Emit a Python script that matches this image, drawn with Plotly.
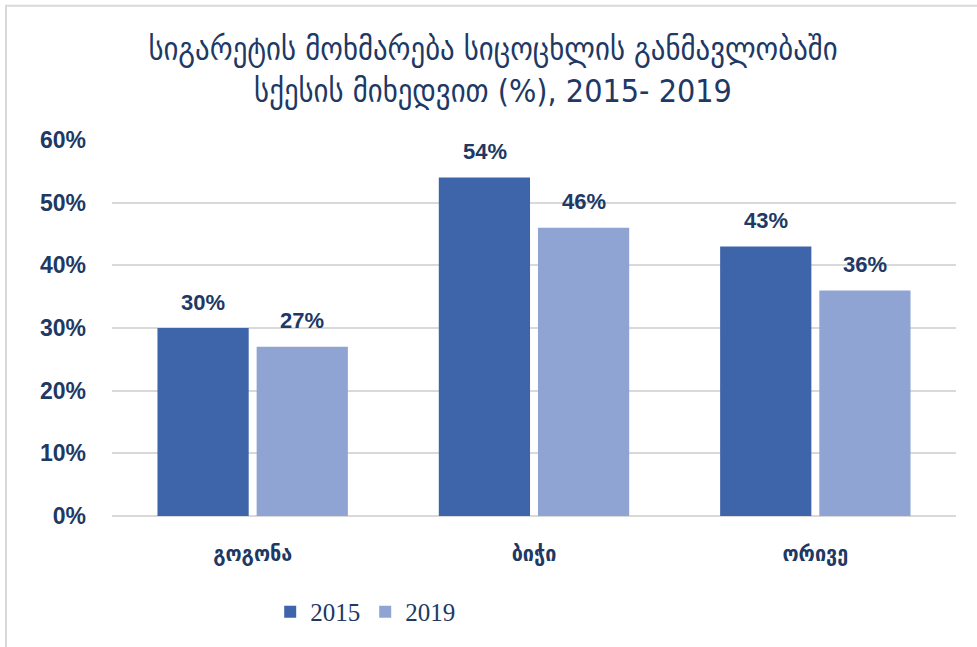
import plotly.graph_objects as go

# Smoking prevalence by sex, 2015 vs 2019 (%)
categories = ["გოგონა", "ბიჭი", "ორივე"]
years = ["2015", "2019"]
values_2015 = [30, 54, 43]
values_2019 = [27, 46, 36]
y_ticks = [0, 10, 20, 30, 40, 50, 60]

navy = "#203864"
colors = {"2015": "#3E64AA", "2019": "#90A4D3"}
series = {"2015": values_2015, "2019": values_2019}

fig = go.Figure()
for yr in years:
    fig.add_trace(go.Bar(
        name=yr, x=categories, y=series[yr],
        marker=dict(color=colors[yr], line=dict(width=0)),
    ))

# value labels above each bar
half_slot = 49.5
for i, yr in enumerate(years):
    shift = -half_slot if i == 0 else half_slot
    for cat, v in zip(categories, series[yr]):
        fig.add_annotation(
            x=cat, y=v, text=f"{v}%", showarrow=False,
            xshift=shift, yshift=26, yanchor="middle",
            font=dict(family="Liberation Sans", size=22, color=navy, weight="bold"),
        )

fig.update_layout(
    width=977, height=647,
    margin=dict(l=112, r=21, t=139.5, b=131, pad=0),
    paper_bgcolor="white", plot_bgcolor="white",
    barmode="group", bargap=0.295, bargroupgap=0.08,
    title=dict(
        text="სიგარეტის მოხმარება სიცოცხლის განმავლობაში<br>სქესის მიხედვით (%), 2015- 2019",
        x=493 / 977, xanchor="center", y=1 - 60 / 647, yanchor="middle",
        font=dict(family="DejaVu Sans Condensed", size=32, color=navy),
    ),
    xaxis=dict(
        showgrid=False, showline=False, ticks="",
        tickfont=dict(family="DejaVu Sans Condensed", size=22, color=navy, weight="bold"),
        ticklabelstandoff=22,
    ),
    yaxis=dict(
        range=[0, 60], tickvals=y_ticks, ticktext=[f"{t}%" for t in y_ticks],
        showgrid=True, gridcolor="#D9D9D9", gridwidth=2,
        zeroline=True, zerolinecolor="#D9D9D9", zerolinewidth=2,
        showline=False, ticks="",
        tickfont=dict(family="Liberation Sans", size=23, color=navy, weight="bold"),
        ticklabelstandoff=25,
    ),
    legend=dict(
        orientation="h", x=0.30, xanchor="center", y=-0.255, yanchor="middle",
        font=dict(family="Liberation Serif", size=25, color=navy),
        itemwidth=30, traceorder="normal", tracegroupgap=0,
    ),
    showlegend=True,
)

# light frame around the chart area
fig.add_shape(
    type="rect", xref="paper", yref="paper",
    x0=(6 - 112) / 844, x1=1.2, y0=-0.5, y1=(516 - 5) / 376.5,
    line=dict(color="#D9D9D9", width=2), fillcolor="rgba(0,0,0,0)", layer="below",
)

fig.write_html("out.html")
